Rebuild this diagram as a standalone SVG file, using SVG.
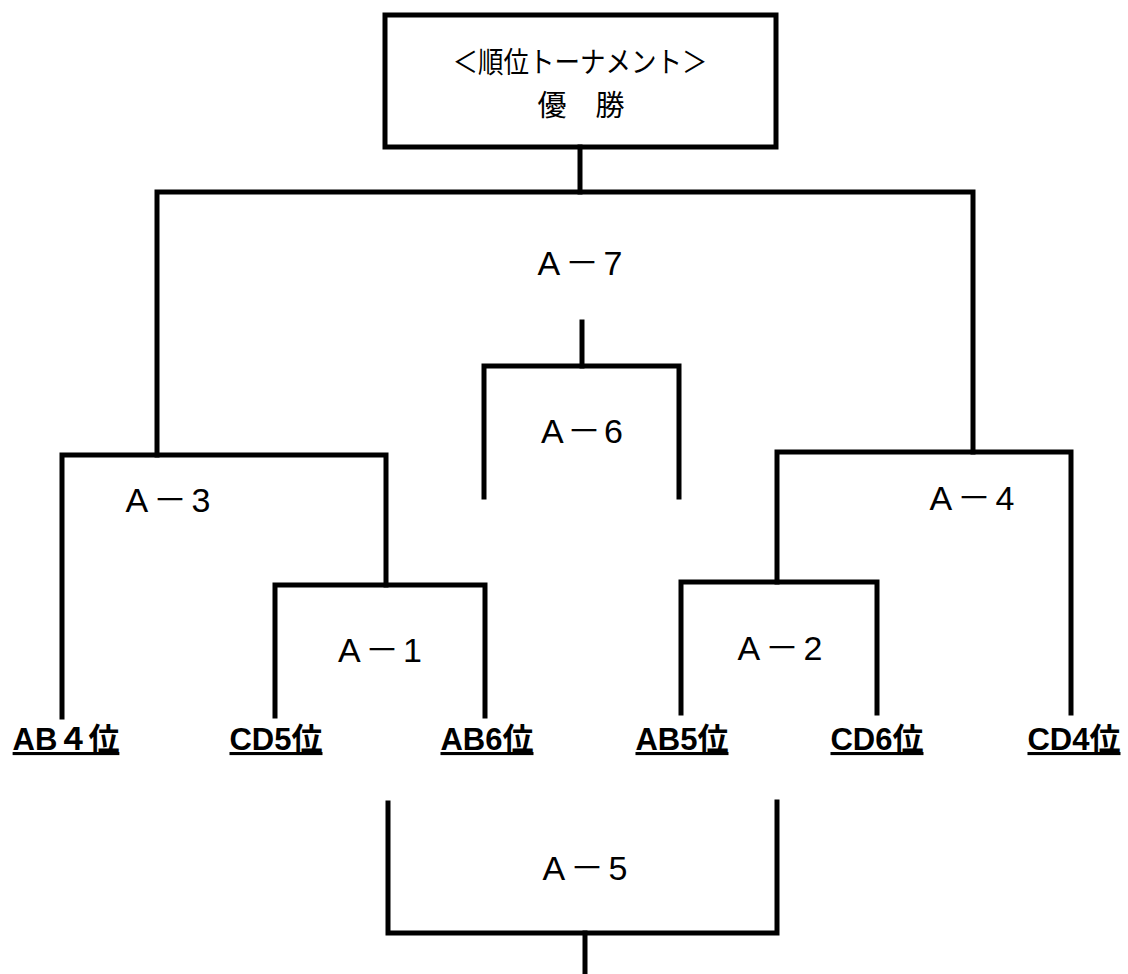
<svg xmlns="http://www.w3.org/2000/svg" width="1128" height="974" viewBox="0 0 1128 974">
<style>
.ln{stroke:#000;stroke-width:5;fill:none;stroke-linecap:square}
.lbl{font-family:"Liberation Sans","Noto Sans CJK JP",sans-serif;font-size:34px;fill:#000;text-anchor:middle}
.title{font-family:"Noto Sans CJK JP",sans-serif;fill:#000;text-anchor:middle}
.team{font-family:"Liberation Sans","Noto Sans CJK JP",sans-serif;font-size:31px;font-weight:bold;fill:#000;text-anchor:middle;text-decoration:underline}
</style>
<rect width="1128" height="974" fill="#fff"/>
<g id="champion">
<rect class="ln" x="385" y="15" width="391" height="132"/>
<text class="title" x="580" y="73" font-size="29" textLength="255" lengthAdjust="spacingAndGlyphs">＜順位トーナメント＞</text>
<text class="title" x="581" y="116" font-size="29">優　勝</text>
</g>
<g id="connectors">
<path class="ln" d="M580 147 V192"/>
<path class="ln" d="M157 455 V192 H973 V452"/>
<path class="ln" d="M582 322 V366"/>
<path class="ln" d="M484 497 V366 H679 V497"/>
<path class="ln" d="M62 717 V455 H386 V585"/>
<path class="ln" d="M275 716 V585 H485 V716"/>
<path class="ln" d="M777 582 V452 H1071 V713"/>
<path class="ln" d="M681 713 V582 H877 V713"/>
<path class="ln" d="M388 803 V933 H777 V802"/>
<path class="ln" d="M585 933 V974"/>
</g>
<g id="A-7"><text class="lbl" x="580" y="275" textLength="85" lengthAdjust="spacing">A－7</text></g>
<g id="A-6"><text class="lbl" x="582" y="443" textLength="82" lengthAdjust="spacing">A－6</text></g>
<g id="A-3"><text class="lbl" x="168" y="512" textLength="85" lengthAdjust="spacing">A－3</text></g>
<g id="A-4"><text class="lbl" x="972" y="510" textLength="85" lengthAdjust="spacing">A－4</text></g>
<g id="A-1"><text class="lbl" x="380" y="662" textLength="84" lengthAdjust="spacing">A－1</text></g>
<g id="A-2"><text class="lbl" x="780" y="660" textLength="85" lengthAdjust="spacing">A－2</text></g>
<g id="A-5"><text class="lbl" x="585" y="880" textLength="85" lengthAdjust="spacing">A－5</text></g>
<g id="AB4"><text class="team" x="66" y="750">AB４位</text></g>
<g id="CD5"><text class="team" x="276" y="750">CD5位</text></g>
<g id="AB6"><text class="team" x="487" y="750">AB6位</text></g>
<g id="AB5"><text class="team" x="682" y="750">AB5位</text></g>
<g id="CD6"><text class="team" x="877" y="750">CD6位</text></g>
<g id="CD4"><text class="team" x="1074" y="750">CD4位</text></g>
</svg>
